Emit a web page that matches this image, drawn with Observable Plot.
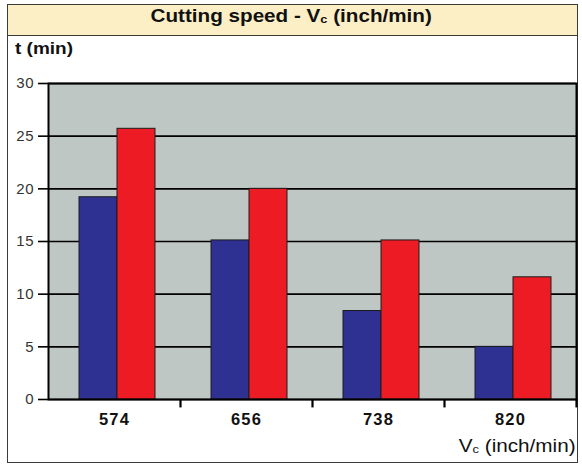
<!DOCTYPE html>
<html>
<head>
<meta charset="utf-8">
<script src="https://cdn.jsdelivr.net/npm/d3@7"></script>
<script src="https://cdn.jsdelivr.net/npm/@observablehq/plot@0.6"></script>
<style>
  html, body { margin: 0; padding: 0; background: #fff; }
  #wrap { position: relative; width: 582px; height: 466px; overflow: hidden; font-family: "Liberation Sans", Arial, Helvetica, sans-serif; }
  #box { position: absolute; left: 7px; top: 4px; width: 569px; height: 457px; border: 1.5px solid #3a3a3a; }
  #band { position: absolute; left: 0; top: 0; right: 0; height: 30px; background: #fcefc5; border-bottom: 1.5px solid #3a3a3a; }
  .t { position: absolute; white-space: nowrap; color: #111; }
  #title { left: 0; right: 0; top: 6px; text-align: center; font-weight: bold; font-size: 17.5px; }
  #title span.in { display: inline-block; transform: scaleX(1.18); }
  #ylab { left: 15px; top: 39px; font-weight: bold; font-size: 16.5px; transform: scaleX(1.15); transform-origin: left center; }
  #xlab { right: 6px; top: 436px; font-size: 18px; transform: scaleX(1.15); transform-origin: right center; }
  .sub { font-size: 0.62em; vertical-align: -0.05em; }
  #chart { position: absolute; left: 0; top: 36px; }
  #chart g[aria-label="y-axis tick label"] text { fill: #333; letter-spacing: 0.8px; font-size: 15px !important; }
  #chart g[aria-label="x-axis tick label"] text { fill: #111; letter-spacing: 1.2px; font-size: 16.5px !important; font-weight: bold; }
</style>
</head>
<body>
<div id="wrap">
  <div id="box"><div id="band"></div></div>
  <div class="t" id="title"><span class="in">Cutting speed - V<span class="sub">c</span> (inch/min)</span></div>
  <div class="t" id="ylab">t (min)</div>
  <div class="t" id="xlab">V<span class="sub">c</span> (inch/min)</div>
  <div id="chart"></div>
</div>
<script>
const categories = ["574", "656", "738", "820"];
const blueValues = [19.2, 15.1, 8.4, 5.0];
const redValues = [25.7, 20.0, 15.1, 11.6];
const yTicks = [0, 5, 10, 15, 20, 25, 30];

const rows = categories.map((v, i) => ({v, blue: blueValues[i], red: redValues[i]}));

const plot = Plot.plot({
  width: 582,
  height: 430,
  marginTop: 47,
  marginBottom: 67,
  marginLeft: 48,
  marginRight: 6,
  style: {fontFamily: "'Liberation Sans', Arial, Helvetica, sans-serif", background: "transparent"},
  x: {domain: categories, padding: 0},
  y: {domain: [0, 30]},
  marks: [
    Plot.frame({fill: "#bec7c4"}),
    Plot.ruleY(yTicks, {stroke: "#000", strokeWidth: 1.6}),
    Plot.barY(rows, {x: "v", y: "blue", fill: "#2e3192", stroke: "#1c1c1c", strokeWidth: 1, insetLeft: 31, insetRight: 63}),
    Plot.barY(rows, {x: "v", y: "red", fill: "#ed1c24", stroke: "#1c1c1c", strokeWidth: 1, insetLeft: 69, insetRight: 25}),
    Plot.frame({stroke: "#000", strokeWidth: 2}),
    Plot.ruleX(categories, {x: d => d, dx: 66, y1: 0, y2: -0.8, stroke: "#000", strokeWidth: 2.2}),
    Plot.axisY({ticks: yTicks, tickSize: 10, tickPadding: 4, fontSize: 15, stroke: "#000", strokeWidth: 1.6, label: null}),
    Plot.axisX({tickSize: 0, tickPadding: 14, fontSize: 16.5, fontWeight: "bold", label: null})
  ]
});
document.getElementById("chart").appendChild(plot);
</script>
</body>
</html>
